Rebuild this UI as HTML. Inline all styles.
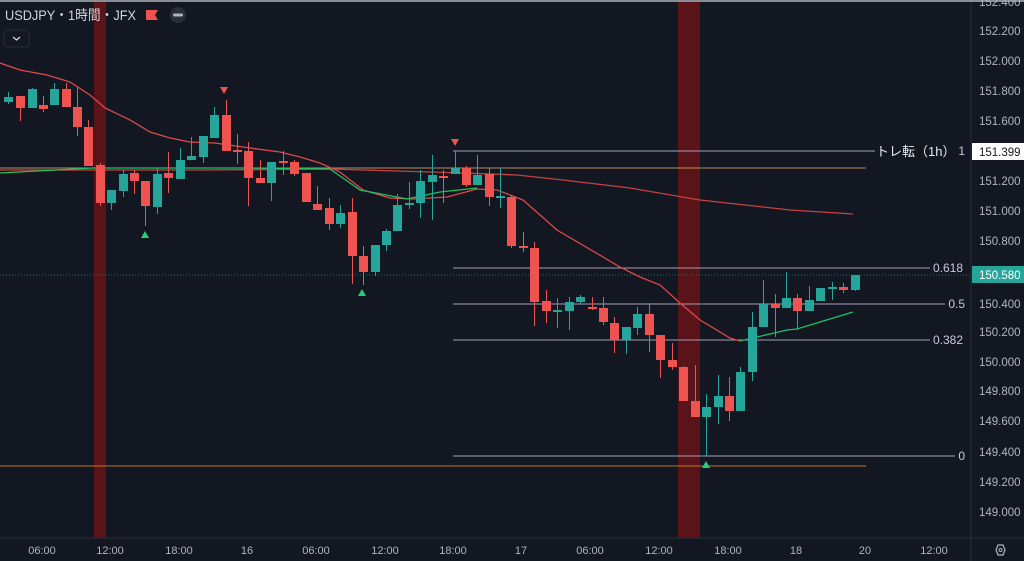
<!DOCTYPE html>
<html><head><meta charset="utf-8"><style>
html,body{margin:0;padding:0;background:#131722;}
svg{display:block;font-family:"Liberation Sans","Noto Sans CJK JP",sans-serif;}
</style></head><body>
<svg id="s" width="1024" height="561" viewBox="0 0 1024 561" xmlns="http://www.w3.org/2000/svg">
<rect width="1024" height="561" fill="#131722"/>
<rect x="0" y="0" width="1024" height="2" fill="#8a8d95"/>
<rect x="94" y="2" width="12" height="536" fill="#5a1419"/>
<rect x="678" y="2" width="22" height="536" fill="#5a1419"/>
<line x1="971" y1="2" x2="971" y2="561" stroke="#2a2e39"/>
<line x1="0" y1="538" x2="1024" y2="538" stroke="#2a2e39"/>
<line x1="0" y1="168" x2="866" y2="168" stroke="#b98a5a" stroke-width="1"/>
<line x1="0" y1="466" x2="866" y2="466" stroke="#b97a2a" stroke-width="1"/>
<line x1="0" y1="275" x2="970" y2="275" stroke="#26a69a" stroke-dasharray="1 2" opacity="0.6"/>
<g stroke="#a89cb8" stroke-width="1">
<line x1="453" y1="151" x2="875" y2="151"/><line x1="453" y1="268" x2="930" y2="268"/>
<line x1="453" y1="304" x2="945" y2="304"/><line x1="453" y1="340" x2="930" y2="340"/>
<line x1="453" y1="456" x2="955" y2="456"/>
</g>
<polyline fill="none" stroke="#e04848" stroke-width="1.3" points="0,63 20,70 47,75 70,82 90,95 105,108 130,120 150,132 170,138 190,142 215,143 250,148 280,152 300,157 320,163 340,172 363,190 390,198 413,199 447,197 477,189 497,190 510,195 523,200 557,230 603,257 620,267 640,277 660,285 680,303 700,320 730,338 740,341"/>
<polyline fill="none" stroke="#c84040" stroke-width="1.3" points="0,170 200,170 330,169 463,173 517,175 563,180 630,188 700,200 727,203 790,210 853,214"/>
<polyline fill="none" stroke="#22c060" stroke-width="1.3" points="0,173 93,168 250,168 330,169 360,190 407,199 440,192 477,188"/>
<polyline fill="none" stroke="#22c060" stroke-width="1.3" points="740,341 787,330 797,329 853,312"/>
<g id="c"></g>
<polygon points="220,87 228,87 224,94" fill="#ef5350"/>
<polygon points="451,139 459,139 455,146" fill="#ef5350"/>
<polygon points="141,238 149,238 145,231" fill="#22d07a"/>
<polygon points="358,296 366,296 362,289" fill="#22d07a"/>
<polygon points="702,468 710,468 706,461" fill="#22d07a"/>
<g fill="#d0c4e0" font-size="12" text-anchor="end">
<text x="963" y="272">0.618</text><text x="965" y="308">0.5</text>
<text x="963" y="344">0.382</text><text x="965" y="460">0</text><text x="965" y="155">1</text>
</g>
<rect x="934" y="262" width="2" height="1" fill="none"/>
<text x="876" y="156" fill="#e8e8ee" font-size="13">トレ転（1h）</text>
<rect x="972" y="143" width="52" height="17" fill="#ffffff"/>
<text x="979" y="156" fill="#131722" font-size="11.5">151.399</text>
<rect x="972" y="266" width="52" height="17" fill="#26a69a"/>
<text x="979" y="279" fill="#ffffff" font-size="11.5">150.580</text>
<g fill="#b2b5be" font-size="11.5">
<text x="979" y="6">152.400</text><text x="979" y="35">152.200</text><text x="979" y="65">152.000</text>
<text x="979" y="95">151.800</text><text x="979" y="125">151.600</text>
<text x="979" y="185">151.200</text><text x="979" y="215">151.000</text><text x="979" y="245">150.800</text>
<text x="979" y="308">150.400</text><text x="979" y="336">150.200</text><text x="979" y="366">150.000</text>
<text x="979" y="395">149.800</text><text x="979" y="425">149.600</text><text x="979" y="456">149.400</text>
<text x="979" y="486">149.200</text><text x="979" y="516">149.000</text>
</g>
<g fill="#b2b5be" font-size="11" text-anchor="middle">
<text x="42" y="554">06:00</text><text x="110" y="554">12:00</text><text x="179" y="554">18:00</text>
<text x="247" y="554">16</text><text x="316" y="554">06:00</text><text x="385" y="554">12:00</text>
<text x="453" y="554">18:00</text><text x="521" y="554">17</text><text x="590" y="554">06:00</text>
<text x="659" y="554">12:00</text><text x="728" y="554">18:00</text><text x="796" y="554">18</text>
<text x="865" y="554">20</text><text x="934" y="554">12:00</text>
</g>
<polygon points="996,550 998,545 1003,545 1005,550 1003,555 998,555" fill="none" stroke="#b2b5be" stroke-width="1.2"/>
<circle cx="1000.5" cy="550" r="1.5" fill="none" stroke="#b2b5be"/>
<text x="5" y="20" fill="#d1d4dc" font-size="14" textLength="131" lengthAdjust="spacingAndGlyphs">USDJPY・1時間・JFX</text>
<polygon points="146,10 158,10 155,15 158,20 146,20" fill="#ef5350"/>
<circle cx="178" cy="15" r="8" fill="#2a2e39"/>
<rect x="173" y="13.5" width="10" height="3" rx="1.5" fill="#b2b5be"/>
<rect x="4" y="30" width="25" height="17" rx="3" fill="#131722" stroke="#2a2e39"/>
<polyline points="13,37 16.5,40 20,37" fill="none" stroke="#d1d4dc" stroke-width="1.3"/>
</svg>
<script>
var d=[[7.5,97,102,92,104,'t'],[19.5,96,108,96,121,'r'],[31.5,89,108,88,108,'t'],[42.5,105,109,96,112,'r'],[53.5,89,105,83,105,'t'],[65.5,89,107,83,107,'r'],[77,107,127,87,136,'r'],[88,127,166,120,166,'r'],[99.5,165,203,163,206,'r'],[110.5,190,203,190,210,'t'],[122.5,174,191,170,197,'t'],[133.5,173,181,170,194,'r'],[144.5,181,206,181,226,'r'],[156.5,174,207,168,214,'t'],[168,173,178,152,193,'r'],[179.5,160,179,148,179,'t'],[190.5,156,160,137,160,'t'],[202.5,136,157,136,163,'t'],[213.5,115,138,107,138,'t'],[225.5,115,151,100,151,'r'],[236.5,150,152,134,164,'r'],[248,151,178,142,206,'r'],[259.5,178,183,160,183,'r'],[270.5,162,183,162,201,'t'],[282.5,161,163,151,175,'r'],[293.5,162,174,160,176,'r'],[305.5,173,202,173,202,'r'],[316.5,204,210,186,210,'r'],[328.5,208,224,198,230,'r'],[340,213,224,205,228,'t'],[351.5,212,256,198,284,'r'],[362.5,256,272,246,285,'r'],[374.5,245,272,245,276,'t'],[385.5,231,245,229,251,'t'],[396.5,205,231,194,231,'t'],[408.5,203,205,182,209,'t'],[419.5,181,203,170,218,'t'],[431.5,175,182,155,220,'t'],[443,176,178,170,203,'r'],[454.5,168,174,151,174,'t'],[465.5,168,185,166,187,'r'],[476.5,175,185,155,185,'t'],[488.5,174,197,168,206,'r'],[500,196,198,168,208,'t'],[511,197,246,195,248,'r'],[522.5,246,248,232,252,'r'],[534,248,302,242,326,'r'],[545.5,301,311,290,323,'r'],[556.5,310,312,298,328,'t'],[568.5,302,311,297,330,'t'],[580,297,302,295,304,'t'],[591.5,307,309,297,310,'r'],[602.5,308,322,297,325,'r'],[614,323,340,317,353,'r'],[625.5,327,340,327,354,'t'],[636.5,314,328,307,335,'t'],[648.5,314,335,303,352,'r'],[659.5,335,360,335,378,'r'],[671.5,360,367,343,370,'r'],[682.5,367,401,366,401,'r'],[694.5,401,417,365,417,'r'],[705.5,407,417,394,456,'t'],[717.5,396,407,375,424,'t'],[728.5,396,411,377,421,'r'],[740,372,411,367,411,'t'],[751.5,327,372,312,381,'t'],[763,304,327,280,327,'t'],[774.5,304,308,294,337,'r'],[785.5,298,308,272,308,'t'],[796.5,298,311,294,330,'r'],[808.5,300,311,286,311,'t'],[819.5,288,301,288,301,'t'],[831.5,287,289,282,300,'t'],[842.5,287,290,283,293,'r'],[854.5,275,290,275,291,'t']];
var g=document.getElementById('c'),h='';
d.forEach(function(c){var col=c[5]=='r'?'#ef5350':'#26a69a';var x=Math.round(c[0]);
h+='<rect x="'+x+'" y="'+c[3]+'" width="1" height="'+(c[4]-c[3])+'" fill="'+col+'"/>';
h+='<rect x="'+(x-4)+'" y="'+c[1]+'" width="9" height="'+Math.max(2,c[2]-c[1])+'" fill="'+col+'"/>';});
g.innerHTML=h;
</script>
</body></html>
